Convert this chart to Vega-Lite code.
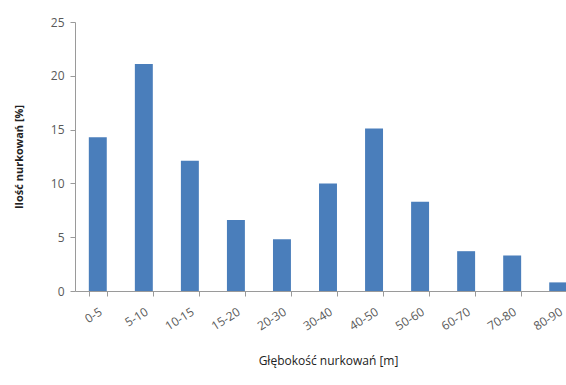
{
  "$schema": "https://vega.github.io/schema/vega-lite/v6.json",
  "autosize": "none",
  "width": 491,
  "height": 269,
  "padding": {"left": 75, "top": 22, "right": 0, "bottom": 94},
  "background": "white",
  "config": {
    "view": {"stroke": null},
    "font": "Open Sans"
  },
  "data": {
    "values": [
      {"glebokosc": "0-5", "procent": 14.3},
      {"glebokosc": "5-10", "procent": 21.1},
      {"glebokosc": "10-15", "procent": 12.1},
      {"glebokosc": "15-20", "procent": 6.6},
      {"glebokosc": "20-30", "procent": 4.8},
      {"glebokosc": "30-40", "procent": 10.0},
      {"glebokosc": "40-50", "procent": 15.1},
      {"glebokosc": "50-60", "procent": 8.3},
      {"glebokosc": "60-70", "procent": 3.7},
      {"glebokosc": "70-80", "procent": 3.3},
      {"glebokosc": "80-90", "procent": 0.8}
    ]
  },
  "mark": {"type": "bar", "color": "#4A7EBB", "clip": true},
  "encoding": {
    "x": {
      "field": "glebokosc",
      "type": "ordinal",
      "sort": null,
      "scale": {"range": [0, 506], "paddingInner": 0.61, "paddingOuter": 0.3},
      "axis": {
        "title": "Głębokość nurkowań [m]",
        "titleFont": "Open Sans",
        "titleFontSize": 12,
        "titleFontWeight": "normal",
        "titleColor": "#222222",
        "titlePadding": 24,
        "labelAngle": -32,
        "labelFontSize": 12,
        "labelColor": "#595959",
        "labelPadding": 10,
        "tickBand": "extent",
        "tickSize": 5,
        "tickColor": "#9a9a9a",
        "domainColor": "#9a9a9a",
        "grid": false
      }
    },
    "y": {
      "field": "procent",
      "type": "quantitative",
      "scale": {"domain": [0, 25], "nice": false},
      "axis": {
        "title": "Ilość nurkowań [%]",
        "titleFontSize": 11,
        "titleFontWeight": "bold",
        "titleColor": "#222222",
        "titlePadding": 26,
        "values": [0, 5, 10, 15, 20, 25],
        "labelFontSize": 12,
        "labelColor": "#595959",
        "labelPadding": 6,
        "tickSize": 5,
        "tickColor": "#9a9a9a",
        "domainColor": "#9a9a9a",
        "grid": false
      }
    }
  }
}
